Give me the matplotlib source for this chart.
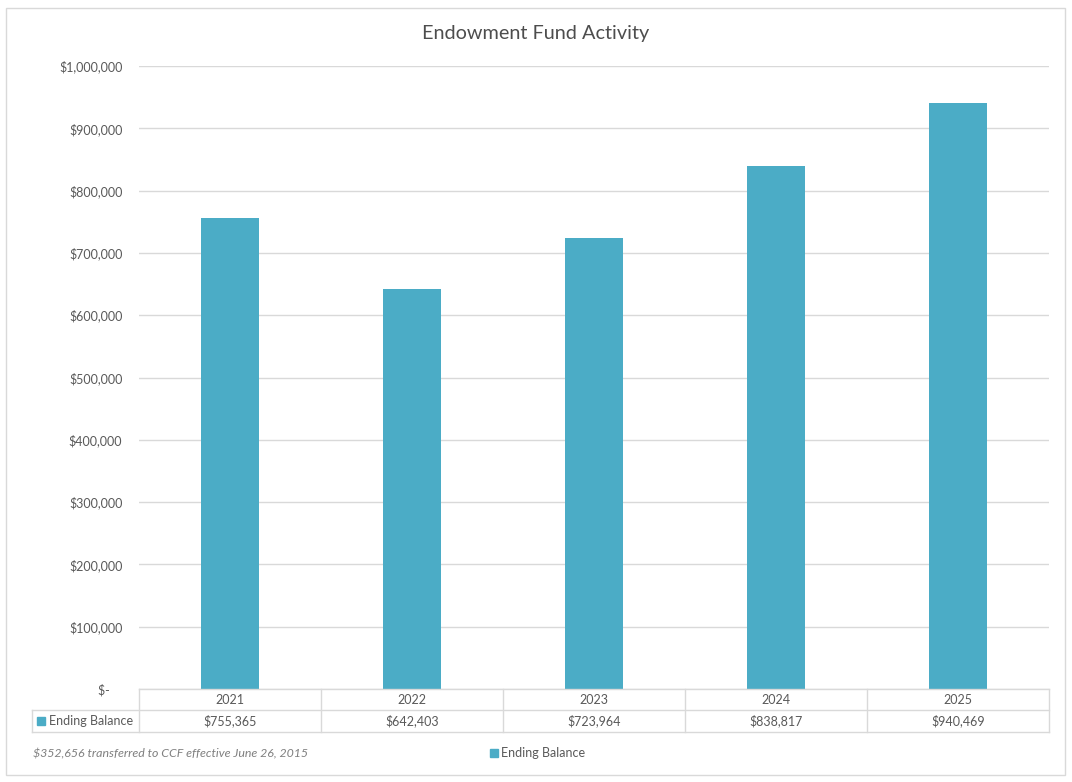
import matplotlib
matplotlib.use("Agg")
import matplotlib.pyplot as plt
from matplotlib.lines import Line2D
from matplotlib.patches import Rectangle

years = ["2021", "2022", "2023", "2024", "2025"]
ending_balance = [755365, 642403, 723964, 838817, 940469]
series_name = "Ending Balance"
title = "Endowment Fund Activity"
note = "$352,656 transferred to CCF effective June 26, 2015"
yticks = [0, 100000, 200000, 300000, 400000, 500000, 600000, 700000, 800000, 900000, 1000000]

W, H = 1072, 782
BAR = "#4BACC6"
GRID = "#D9D9D9"
TXT = "#595959"
FS = 9.0
plt.rcParams['font.family'] = ['Lato', 'DejaVu Sans']

fig = plt.figure(figsize=(W / 100, H / 100), dpi=100)

def fx(x):
    return x / W

def fy(y):
    return 1 - y / H

# outer border
fig.add_artist(Rectangle((fx(6), fy(775)), fx(1065) - fx(6), fy(8) - fy(775),
                         transform=fig.transFigure, fill=False, edgecolor=GRID, lw=1))

L, R, T, B = 139, 1049, 66, 689
ax = fig.add_axes([fx(L), fy(B), fx(R) - fx(L), fy(T) - fy(B)])
x = list(range(len(years)))
ax.bar(x, ending_balance, width=0.315, color=BAR, zorder=3)
ax.set_xlim(-0.5, len(years) - 0.5)
ax.set_ylim(0, 1000000)
ax.set_yticks(yticks)
ax.set_yticklabels(["$-    " if v == 0 else f"${v:,.0f}" for v in yticks],
                   fontsize=FS, color=TXT)
ax.tick_params(axis='y', length=0, pad=12)
ax.set_xticks([])
ax.grid(axis='y', color=GRID, lw=1, zorder=0)
for s in ax.spines.values():
    s.set_visible(False)

fig.text(0.5, fy(34), title, ha='center', va='center', fontsize=14.3, color="#4D4D4D")

# data table
row1_top, row1_bot, row2_bot = 689, 710, 732
colw = (R - L) / len(years)
def hline(y, x0, x1):
    fig.add_artist(Line2D([fx(x0), fx(x1)], [fy(y), fy(y)], color=GRID, lw=1,
                          transform=fig.transFigure))
def vline(xp, y0, y1):
    fig.add_artist(Line2D([fx(xp), fx(xp)], [fy(y0), fy(y1)], color=GRID, lw=1,
                          transform=fig.transFigure))

hline(row1_top, L, R)
hline(row1_bot, 32, R)
hline(row2_bot, 32, R)
vline(32, row1_bot, row2_bot)
for i in range(len(years) + 1):
    vline(L + i * colw, row1_top, row2_bot)
for i, (yr, v) in enumerate(zip(years, ending_balance)):
    cx = L + (i + 0.5) * colw
    fig.text(fx(cx), fy((row1_top + row1_bot) / 2), yr, ha='center', va='center',
             fontsize=FS, color=TXT)
    fig.text(fx(cx), fy((row1_bot + row2_bot) / 2), f"${v:,.0f}", ha='center', va='center',
             fontsize=FS, color=TXT)
fig.add_artist(Rectangle((fx(37), fy(725)), fx(45) - fx(37), fy(717) - fy(725),
                         transform=fig.transFigure, color=BAR))
fig.text(fx(49), fy(721), series_name, ha='left', va='center', fontsize=FS, color=TXT)

# note
fig.text(fx(33), fy(754), note, ha='left', va='center', fontsize=8.9, color="#7F7F7F",
         style='italic')

# legend
fig.add_artist(Rectangle((fx(490), fy(757)), fx(498) - fx(490), fy(749) - fy(757),
                         transform=fig.transFigure, color=BAR))
fig.text(fx(501), fy(753), series_name, ha='left', va='center', fontsize=FS, color=TXT)

fig.savefig("out.png", dpi=100)
